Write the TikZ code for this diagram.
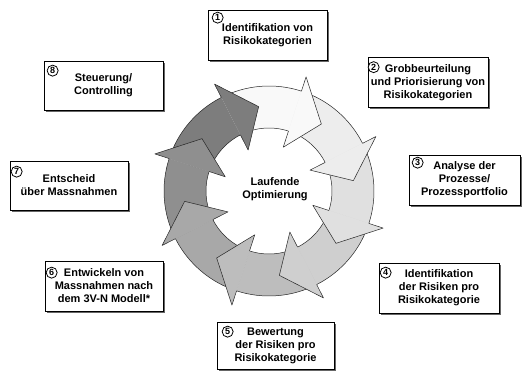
\documentclass[tikz,border=0pt]{standalone}
\usepackage{fontspec}
\setmainfont{Liberation Sans}
\usetikzlibrary{shadows}

\definecolor{seg1}{gray}{0.975}
\definecolor{seg2}{gray}{0.93}
\definecolor{seg3}{gray}{0.88}
\definecolor{seg4}{gray}{0.81}
\definecolor{seg5}{gray}{0.74}
\definecolor{seg6}{gray}{0.66}
\definecolor{seg7}{gray}{0.56}
\definecolor{seg8}{gray}{0.49}

\tikzset{
  riskbox/.style={draw, fill=white, line width=0.7pt, minimum width=119pt,
    minimum height=50pt, inner sep=1pt, align=center,
    font=\fontsize{11}{13}\selectfont\bfseries,
    drop shadow={shadow xshift=1.8pt, shadow yshift=-1.8pt, fill=black!60, opacity=1}},
  numcirc/.style={circle, draw, fill=white, line width=0.8pt, inner sep=0pt,
    minimum size=11pt, font=\fontsize{9}{9}\selectfont\bfseries},
  ringline/.style={draw=black!85, line width=0.5pt, line join=round}
}

\begin{document}
\begin{tikzpicture}[x=1pt, y=1pt]
    \useasboundingbox (0,0) rectangle (524,370);

    \def\cx{269};
    \def\cy{179};
    \def\ro{105};
    \def\ri{63};

% arrow head: barbs and tip
    \def\bo{120};
    \def\bi{46};
    \def\tr{85};
    \def\tw{20};

\begin{scope}[shift={(\cx,\cy)}]
% ring bodies
    \foreach \b/\col in {72/seg1, 27/seg2, -18/seg3, -63/seg4, -108/seg5, -153/seg6, -198/seg7, -243/seg8}{
        \fill[\col] (\b+45:\ro) arc[start angle=\b+45, end angle=\b, radius=\ro]
            -- (\b:\ri) arc[start angle=\b, end angle=\b+45, radius=\ri] -- cycle;
        \draw[ringline] (\b+45:\ro) arc[start angle=\b+45, end angle=\b, radius=\ro];
        \draw[ringline] (\b:\ri) arc[start angle=\b, end angle=\b+45, radius=\ri];
    }
% heads on top of the next body
    \foreach \b/\col in {72/seg1, 27/seg2, -18/seg3, -63/seg4, -108/seg5, -153/seg6, -198/seg7, -243/seg8}{
        \fill[\col] (\b:\ro) -- (\b:\bo) -- (\b-\tw:\tr) -- (\b:\bi) -- (\b:\ri) -- cycle;
        \draw[ringline] (\b:\ro) -- (\b:\bo) -- (\b-\tw:\tr) -- (\b:\bi) -- (\b:\ri);
    }
\end{scope}

    \node[align=center, font=\fontsize{11}{13}\selectfont\bfseries] (mid) at (275,181) {Laufende\\Optimierung};

% steps
    \node[riskbox] (b1) at (267.5,335) {Identifikation von\\Risikokategorien};
    \node[riskbox, minimum width=120pt] (b2) at (428,287.5) {Grobbeurteilung\\und Priorisierung von\\Risikokategorien};
    \node[riskbox, minimum width=111pt] (b3) at (464.5,190) {Analyse der\\Prozesse/\\Prozessportfolio};
    \node[riskbox, minimum width=120pt] (b4) at (439,82) {Identifikation\\der Risiken pro\\Risikokategorie};
    \node[riskbox, minimum width=117pt, minimum height=47pt] (b5) at (275.5,24.5) {Bewertung\\der Risiken pro\\Risikokategorie};
    \node[riskbox, minimum width=118pt] (b6) at (104,84) {Entwickeln von\\Massnahmen nach\\dem 3V-N Modell*};
    \node[riskbox, minimum width=118pt, minimum height=49pt] (b7) at (69,184.5) {Entscheid\\über Massnahmen};
    \node[riskbox, minimum height=49pt] (b8) at (103.5,284.5) {Steuerung/\\Controlling};

% numbers
    \node[numcirc] (n1) at ([xshift=10pt, yshift=-8pt]b1.north west) {1};
    \node[numcirc] (n2) at ([xshift=6pt, yshift=-10pt]b2.north west) {2};
    \node[numcirc] (n3) at ([xshift=9pt, yshift=-8pt]b3.north west) {3};
    \node[numcirc] (n4) at ([xshift=7pt, yshift=-10pt]b4.north west) {4};
    \node[numcirc] (n5) at ([xshift=11pt, yshift=-10pt]b5.north west) {5};
    \node[numcirc] (n6) at ([xshift=7pt, yshift=-12pt]b6.north west) {6};
    \node[numcirc] (n7) at ([xshift=7pt, yshift=-11pt]b7.north west) {7};
    \node[numcirc] (n8) at ([xshift=9pt, yshift=-10pt]b8.north west) {8};

\end{tikzpicture}
\end{document}
